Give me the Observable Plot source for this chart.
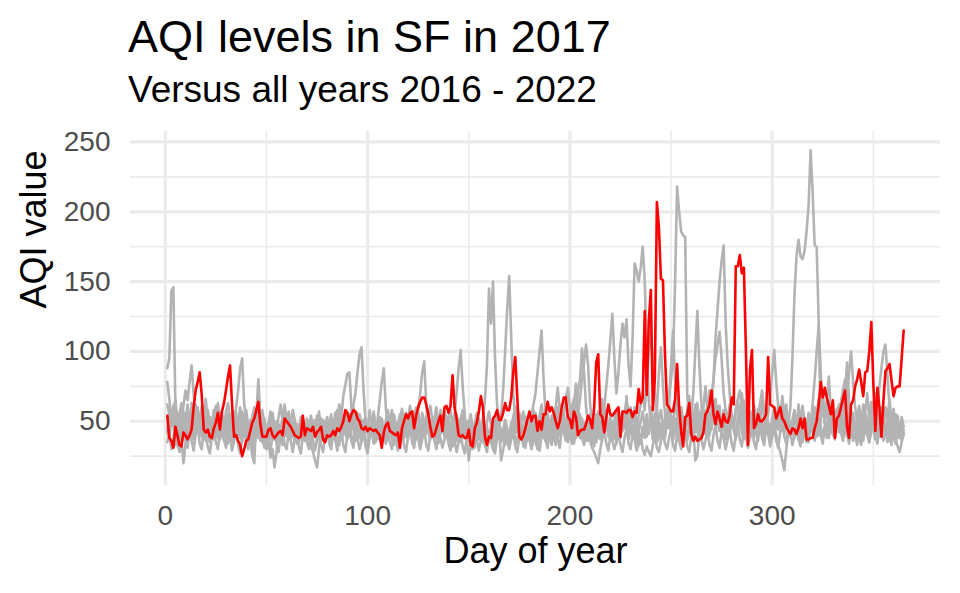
<!DOCTYPE html>
<html>
<head>
<meta charset="utf-8">
<script src="https://cdn.jsdelivr.net/npm/d3@7"></script>
<script src="https://cdn.jsdelivr.net/npm/@observablehq/plot@0.6"></script>
<style>
  html, body { margin: 0; padding: 0; background: #ffffff; }
  #wrap { position: relative; width: 960px; height: 593px; overflow: hidden; font-family: "Liberation Sans", Arial, Helvetica, sans-serif; }
  #title { position: absolute; left: 128px; top: 14px; font-size: 45px; line-height: 1; color: #000; white-space: nowrap; }
  #subtitle { position: absolute; left: 128px; top: 70.5px; font-size: 37px; line-height: 1; color: #000; white-space: nowrap; }
  #chart { position: absolute; left: 0; top: 0; }
</style>
</head>
<body>
<div id="wrap">
  <div id="chart"></div>
  <div id="title">AQI levels in SF in 2017</div>
  <div id="subtitle">Versus all years 2016 - 2022</div>
</div>
<script>
// ---- Data: daily AQI, day 1..365 ----
const aqi2017 = [
54,38,36,31,46,40,33,32,42,40,
37,40,44,60,72,78,85,69,44,42,
44,39,38,45,49,56,44,57,63,72,
82,90,62,39,40,36,33,25,30,36,
37,43,49,52,58,64,48,39,39,39,
44,45,40,38,40,42,43,40,52,50,
48,46,43,40,39,38,39,54,40,45,
44,43,46,39,42,44,46,37,35,40,
39,40,43,40,45,43,46,50,58,56,
50,55,58,57,52,50,45,44,46,43,
45,44,43,44,42,40,31,42,47,49,
43,42,41,40,42,31,45,50,55,52,
56,57,45,54,60,64,67,67,62,55,
46,39,40,45,50,54,43,60,61,56,
61,83,60,52,40,39,40,38,38,44,
33,32,45,49,57,68,60,39,33,39,
38,52,54,58,51,51,56,63,58,58,
67,85,96,67,39,37,40,45,51,57,
50,54,54,43,50,44,55,55,64,57,
60,56,50,45,50,60,67,67,53,51,
45,57,53,40,43,44,44,48,54,51,
45,60,92,98,55,53,42,53,62,55,
54,56,58,60,39,57,57,56,58,58,
53,57,56,73,63,67,129,69,122,144,
58,81,207,189,152,151,98,62,60,57,
57,66,91,60,43,32,53,54,63,41,
36,39,36,37,38,42,55,57,62,72,
55,48,57,52,46,55,50,49,54,67,
62,161,161,169,156,160,102,33,86,101,
45,48,55,50,50,52,55,96,62,61,
60,52,56,60,52,50,46,43,41,45,
44,41,45,52,45,52,37,37,38,38,
45,50,62,78,67,74,67,61,55,65,
38,52,54,60,66,72,46,38,62,65,
75,80,87,78,68,85,86,100,121,77,
43,74,60,39,65,86,88,91,79,68,
74,75,75,95,115
];
const aqi2016 = [
42,55,48,60,45,52,38,47,57,50,
62,49,58,44,40,53,46,61,52,66,
50,39,44,55,42,63,48,57,45,41,
49,38,52,44,60,72,88,95,62,52,
40,46,38,50,43,56,42,48,35,41,
46,38,52,44,49,37,42,53,45,39,
50,41,45,36,44,38,48,52,40,47,
37,42,50,41,54,45,49,38,44,40,
46,38,51,42,57,47,53,40,45,39,
55,49,60,46,56,42,50,39,48,43,
58,47,53,40,46,38,51,42,46,55,
45,50,38,44,36,41,48,40,56,50,
61,51,57,42,46,39,48,43,53,45,
40,48,37,46,41,58,52,44,54,43,
47,40,55,70,88,101,75,55,40,45,
33,38,44,36,48,42,52,38,47,35,
42,33,46,38,50,41,45,36,40,34,
48,40,53,44,49,37,43,35,41,39,
52,43,56,45,50,38,44,36,47,40,
54,46,58,49,62,51,57,42,55,48,
60,66,52,72,80,102,85,60,48,55,
40,46,35,42,37,47,43,51,39,46,
36,42,34,47,38,52,45,56,41,50,
38,45,33,41,35,46,42,55,44,51,
37,44,35,40,48,38,53,45,58,47,
43,52,36,44,34,42,38,52,47,57,
50,62,45,56,38,47,41,53,44,60,
52,66,49,61,40,55,37,46,41,52,
45,58,64,50,70,56,45,52,38,42,
53,47,59,50,65,54,60,43,48,40,
55,49,61,52,68,55,62,44,49,41,
56,45,62,50,57,42,51,39,48,43,
60,54,66,57,72,51,64,46,52,42,
55,48,61,50,73,59,67,47,52,43,
49,40,55,44,62,57,70,51,64,46,
42,48,39,54,43,60,52,66,47,59,
43,38,46,40,42
];
const aqi2018 = [
88,95,143,146,60,40,52,45,55,48,
58,44,63,50,41,53,45,49,38,44,
56,42,48,37,51,45,57,40,49,43,
36,50,44,57,41,49,60,46,53,39,
47,36,54,41,49,38,45,35,44,30,
36,24,30,17,28,46,38,55,62,48,
57,44,50,37,48,42,52,40,36,45,
39,50,42,47,35,44,52,40,49,43,
38,51,44,56,48,62,53,68,76,84,
85,60,48,55,39,46,36,51,42,47,
38,45,35,50,41,46,37,44,34,40,
47,38,55,44,50,41,48,38,53,42,
49,40,54,37,46,35,43,50,41,56,
45,52,39,47,36,51,42,49,38,46,
35,43,33,48,40,52,44,38,50,39,
45,34,41,48,37,46,40,33,44,36,
42,35,51,40,47,38,45,33,41,36,
49,38,50,42,55,46,39,48,36,43,
32,41,37,46,40,58,47,53,38,44,
35,42,33,47,40,52,43,48,36,42,
34,45,38,57,46,52,39,47,36,43,
34,48,40,54,46,66,52,58,42,49,
39,46,36,50,42,56,47,68,52,60,
42,47,36,43,34,45,38,48,41,60,
47,56,40,50,36,44,38,52,45,55,
47,61,67,53,60,43,51,36,45,40,
51,42,63,50,58,44,52,40,49,44,
55,46,61,50,45,56,38,47,42,53,
46,59,66,72,58,65,47,52,40,48,
44,55,49,61,67,52,60,44,48,41,
56,45,62,50,58,43,52,48,60,95,
140,168,180,168,166,172,186,205,244,214,
176,175,120,45,40,47,38,53,44,59,
48,55,42,50,39,54,43,60,49,56,
42,51,39,45,36,48,40,56,45,62,
50,57,42,51,38,46,35,49,39,45,
36,44,38,48,40
];
const aqi2019 = [
62,55,47,58,66,50,44,53,61,72,
65,78,90,70,52,45,56,48,41,50,
58,47,40,52,61,55,46,39,44,57,
63,50,42,48,56,44,38,47,54,41,
36,44,52,60,49,42,50,58,46,40,
47,55,43,37,45,53,62,50,43,49,
56,45,39,48,41,35,43,52,46,38,
45,54,47,40,49,57,44,38,46,53,
42,36,44,51,58,48,41,50,45,39,
47,55,62,70,85,98,103,72,50,43,
38,46,54,44,37,45,52,41,35,43,
50,58,47,40,48,55,45,38,46,53,
60,49,42,50,57,46,39,47,54,44,
37,45,52,60,48,41,49,56,45,38,
46,53,42,36,44,51,58,47,40,48,
55,44,37,45,52,41,35,43,50,57,
46,39,47,54,43,36,44,51,45,38,
46,53,60,49,42,50,57,46,39,47,
54,62,70,85,100,115,80,55,46,40,
48,56,45,38,46,53,42,36,44,51,
58,47,40,48,55,44,37,45,52,41,
35,43,50,57,46,39,47,54,43,36,
44,51,58,47,40,48,55,44,37,45,
52,60,49,42,50,57,46,39,47,54,
43,36,44,51,58,47,40,48,55,44,
37,45,52,41,35,43,50,57,46,39,
47,54,43,36,44,51,58,47,40,48,
55,62,50,43,51,58,47,40,48,55,
44,37,45,52,60,49,42,50,57,46,
39,47,54,63,72,58,48,55,68,85,
101,78,60,50,43,51,58,47,40,48,
55,44,37,45,52,41,35,43,50,57,
46,39,47,54,62,51,44,52,59,48,
41,49,56,64,72,80,68,85,100,78,
60,50,43,51,58,47,40,48,55,44,
37,45,52,60,49,42,50,57,46,39,
47,54,43,36,44
];
const aqi2020 = [
45,38,52,47,33,41,56,36,20,34,
48,55,42,37,51,60,46,39,44,53,
41,35,49,58,45,38,52,43,36,47,
55,40,34,46,53,39,44,57,48,37,
42,51,36,30,45,54,41,38,50,44,
35,43,56,47,39,48,41,33,46,55,
43,37,50,42,34,44,53,40,36,48,
39,31,45,51,38,43,49,36,41,52,
44,35,42,50,39,33,46,54,41,37,
48,40,34,45,52,38,43,50,37,32,
44,51,40,35,47,53,39,45,36,42,
49,38,33,46,41,35,48,55,42,37,
50,44,36,47,58,70,85,93,62,45,
38,46,53,40,34,45,51,39,44,50,
37,32,43,49,40,35,46,53,41,36,
44,38,31,42,48,36,41,47,34,39,
45,37,30,41,46,35,40,48,38,33,
42,50,39,34,45,40,32,43,49,37,
41,47,35,30,44,51,39,36,45,40,
33,42,48,37,31,45,52,40,35,46,
41,34,44,50,38,43,49,36,40,47,
38,32,45,53,42,48,60,75,90,108,
127,95,70,85,105,120,110,123,90,75,
110,163,158,150,160,175,151,100,65,48,
40,52,60,45,38,50,42,55,68,80,
95,150,218,200,186,183,182,70,48,55,
70,100,129,90,62,50,45,58,72,66,
80,110,130,150,165,176,120,90,70,52,
45,40,48,55,42,37,50,46,39,44,
52,41,36,47,43,38,49,45,35,42,
48,40,33,28,22,15,30,42,50,44,
38,46,53,41,35,47,42,37,49,44,
36,45,52,40,34,46,41,38,50,43,
37,48,55,42,36,47,41,34,45,52,
40,33,46,42,38,49,44,35,43,51,
39,34,46,42,37,48,43,36,45,40,
34,44,38,46,41
];
const aqi2021 = [
78,66,52,61,48,40,55,63,50,44,
58,49,38,46,62,54,43,51,47,36,
45,53,41,50,59,48,37,44,52,40,
34,47,56,43,38,51,45,35,49,58,
46,39,26,41,54,47,36,43,52,40,
48,57,44,37,50,42,35,46,55,48,
39,47,58,51,42,36,49,44,38,52,
45,33,28,22,17,30,42,51,44,38,
47,55,41,36,50,43,37,48,56,45,
39,51,44,36,47,55,48,40,52,45,
38,49,57,46,41,53,47,39,50,58,
48,42,54,46,38,51,59,49,43,55,
47,40,52,60,50,44,56,48,41,53,
61,51,45,57,49,42,54,46,39,51,
58,48,42,55,47,40,52,45,38,50,
44,37,49,56,46,40,52,65,90,145,
120,150,95,62,48,55,72,100,130,154,
110,70,52,44,56,48,40,53,46,39,
51,58,47,41,54,62,50,43,55,48,
40,52,60,74,58,46,53,45,38,50,
57,48,42,54,66,80,92,105,90,62,
50,43,55,47,40,52,60,48,42,54,
46,39,51,59,49,43,55,64,52,45,
57,49,42,54,62,70,58,80,100,115,
90,70,58,85,103,75,55,48,62,90,
115,80,55,47,60,52,45,57,68,50,
43,55,47,40,52,60,75,58,49,62,
80,95,105,114,95,70,58,50,62,55,
47,41,53,61,50,44,56,48,42,54,
62,51,45,57,49,43,55,47,40,52,
60,50,44,56,48,41,53,46,39,51,
58,47,41,53,61,50,44,56,48,42,
54,46,40,52,60,49,43,55,47,40,
52,59,48,42,54,46,39,51,58,47,
41,53,61,50,44,56,48,42,54,62,
70,58,75,88,100,105,82,60,50,43,
55,47,41,53,46
];
const aqi2022 = [
35,42,30,38,46,33,28,40,51,37,
31,44,36,29,41,48,34,30,43,39,
32,27,38,45,35,30,42,50,37,31,
44,38,29,36,43,33,27,39,46,35,
30,42,25,20,55,80,52,38,31,43,
36,29,40,47,34,28,39,45,33,30,
42,36,28,38,44,32,27,40,48,35,
30,41,37,29,36,43,33,28,39,46,
34,30,42,38,29,37,44,33,28,40,
47,36,31,43,38,30,35,42,32,27,
38,45,34,40,52,65,78,88,60,42,
35,30,41,37,29,36,43,33,28,39,
46,35,31,42,38,30,37,44,33,29,
40,47,36,30,43,38,31,37,45,34,
29,40,36,28,35,42,32,27,38,22,
34,30,41,37,29,36,43,33,28,39,
35,30,27,38,44,22,29,40,36,30,
37,43,32,28,39,46,35,31,42,37,
30,36,44,34,29,40,47,36,31,43,
38,45,52,60,50,42,55,66,74,60,
48,62,77,58,45,38,33,40,47,36,
31,28,24,20,30,37,44,34,29,40,
36,30,35,42,33,28,38,45,34,30,
41,37,29,33,40,30,26,32,28,25,
33,39,31,28,36,43,34,30,38,44,
33,29,40,36,30,37,43,32,28,39,
45,22,25,42,38,30,36,44,33,29,
40,47,36,31,43,38,30,37,44,34,
29,41,48,37,32,44,40,31,38,45,
35,30,42,49,38,33,45,41,32,39,
46,36,31,43,50,39,34,46,42,33,
40,47,37,32,44,51,40,35,48,62,
80,100,119,85,60,48,65,82,58,45,
38,50,62,48,40,68,92,65,45,36,
42,50,39,33,45,52,40,35,47,55,
43,37,49,44,36,42,50,39,33,45,
38,32,28,35,41
];
const otherYears = ["2016", "2018", "2019", "2020", "2021", "2022"];
const otherValues = [aqi2016, aqi2018, aqi2019, aqi2020, aqi2021, aqi2022];

// ---- Axis ticks ----
const xTicks = [0, 100, 200, 300];
const xMinor = [50, 150, 250, 350];
const yTicks = [50, 100, 150, 200, 250];
const yMinor = [25, 75, 125, 175, 225];

// ---- Build tables ----
const grayRows = otherYears.flatMap((year, k) =>
  otherValues[k].map((v, i) => ({year, day: i + 1, aqi: v})));
const redRows = aqi2017.map((v, i) => ({year: "2017", day: i + 1, aqi: v}));

const chart = Plot.plot({
  width: 960,
  height: 593,
  marginLeft: 130,
  marginRight: 20,
  marginTop: 131,
  marginBottom: 108,
  style: {fontFamily: "'Liberation Sans', Arial, Helvetica, sans-serif", background: "white", overflow: "visible"},
  x: {domain: [-17.2, 383.2]},
  y: {domain: [4, 257.5]},
  marks: [
    Plot.ruleY(yMinor, {stroke: "#ebebeb", strokeWidth: 1.6}),
    Plot.ruleX(xMinor, {stroke: "#ebebeb", strokeWidth: 1.6}),
    Plot.ruleY(yTicks, {stroke: "#ebebeb", strokeWidth: 3.2}),
    Plot.ruleX(xTicks, {stroke: "#ebebeb", strokeWidth: 3.2}),
    Plot.line(grayRows, {x: "day", y: "aqi", z: "year", stroke: "#b3b3b3", strokeWidth: 2.6}),
    Plot.line(redRows, {x: "day", y: "aqi", stroke: "#ff0000", strokeWidth: 2.6}),
    Plot.axisX(xTicks, {tickSize: 0, tickPadding: 20, fontSize: 28, color: "#4d4d4d", label: null}),
    Plot.axisY(yTicks, {tickSize: 0, tickPadding: 20, fontSize: 28, color: "#4d4d4d", label: null}),
    Plot.text(["Day of year"], {frameAnchor: "bottom", dy: 77, lineAnchor: "bottom", fontSize: 36, fill: "#000"}),
    Plot.text(["AQI value"], {frameAnchor: "left", rotate: -90, dx: -85, lineAnchor: "bottom", fontSize: 36, fill: "#000"})
  ]
});
document.getElementById("chart").appendChild(chart);
</script>
</body>
</html>
